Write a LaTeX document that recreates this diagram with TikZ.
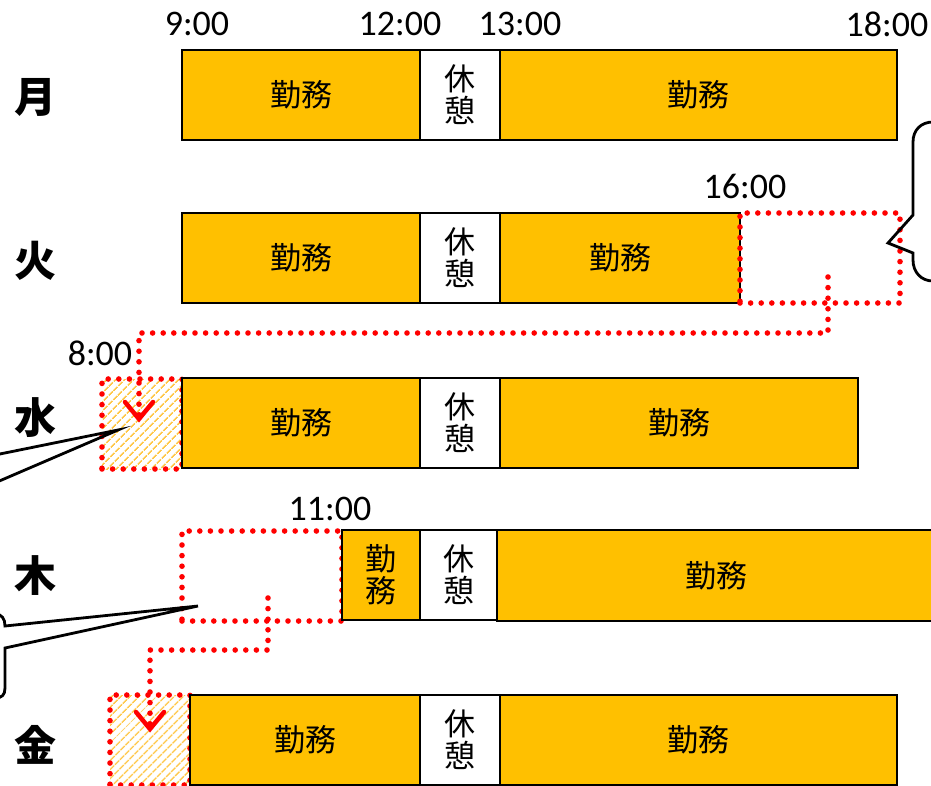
\documentclass[tikz,border=0pt]{standalone}
\usepackage{fontspec}
\setmainfont{Carlito}
\newfontfamily\jp{Noto Sans CJK JP}
\usetikzlibrary{patterns.meta}
\definecolor{workc}{HTML}{FFC000}
\definecolor{hatchc}{HTML}{FFC84A}
\definecolor{dotc}{HTML}{FF0000}
\tikzset{
  bar/.style={draw=black, line width=2.8pt, inner sep=0pt, outer sep=0pt, minimum height=90pt, anchor=north west, font=\jp\fontsize{31}{32}\selectfont, align=center},
  work/.style={bar, fill=workc},
  rest/.style={bar, fill=white},
  dotbox/.style={draw=dotc, line width=5.6pt, dash pattern=on 0pt off 10.6pt, line cap=round, inner sep=0pt, outer sep=0pt, minimum height=90pt, anchor=north west},
  hatchbox/.style={dotbox, pattern={Lines[angle=45,distance=6.5pt,line width=1.6pt]}, pattern color=hatchc},
  dotline/.style={draw=dotc, line width=5.6pt, dash pattern=on 0pt off 10.6pt, line cap=round},
  vhead/.style={draw=dotc, line width=4.5pt, line cap=round, line join=miter},
  callout/.style={draw=black, line width=2.8pt, line join=miter},
  day/.style={font=\jp\bfseries\fontsize{42}{42}\selectfont},
  tlabel/.style={font=\fontsize{36}{36}\selectfont, inner sep=0pt}
}
\begin{document}
\begin{tikzpicture}[x=1pt,y=-1pt]
\useasboundingbox (0,0) rectangle (931,785);
% time labels
\node[tlabel] (t9) at (197,24) {9:00};
\node[tlabel] (t12) at (400,24) {12:00};
\node[tlabel] (t13) at (520,24) {13:00};
\node[tlabel] (t18) at (887,24) {18:00};
\node[tlabel] (t16) at (745,186) {16:00};
\node[tlabel] (t8) at (100,353) {8:00};
\node[tlabel] (t11) at (330,509) {11:00};
% day labels
\node[day] (d1) at (35,97) {月};
\node[day] (d2) at (35,261) {火};
\node[day] (d3) at (35,418) {水};
\node[day] (d4) at (35,576) {木};
\node[day] (d5) at (35,745) {金};
% Monday
\node[work, minimum width=238pt] (m1) at (182,50) {勤務};
\node[rest, minimum width=80pt] (m2) at (420,50) {休\\憩};
\node[work, minimum width=397pt] (m3) at (500,50) {勤務};
% Tuesday
\node[work, minimum width=238pt] (u1) at (182,213) {勤務};
\node[rest, minimum width=80pt] (u2) at (420,213) {休\\憩};
\node[work, minimum width=240pt] (u3) at (500,213) {勤務};
\node[dotbox, minimum width=160pt] (u4) at (740,213) {};
% Wednesday
\node[hatchbox, minimum width=80pt] (w0) at (102,379) {};
\node[work, minimum width=238pt] (w1) at (182,378) {勤務};
\node[rest, minimum width=80pt] (w2) at (420,378) {休\\憩};
\node[work, minimum width=358pt] (w3) at (500,378) {勤務};
% Thursday
\node[dotbox, minimum width=160pt] (h0) at (182,531) {};
\node[work, minimum width=78pt] (h1) at (342,530) {勤\\務};
\node[rest, minimum width=77pt] (h2) at (420,530) {休\\憩};
\node[bar, fill=workc, minimum width=450pt, minimum height=91pt, text width=436pt, align=left] (h3) at (497,530) {\hspace{181pt}勤務};
% Friday
\node[hatchbox, minimum width=80pt] (f0) at (110,695) {};
\node[work, minimum width=230pt] (f1) at (190,695) {勤務};
\node[rest, minimum width=80pt] (f2) at (420,695) {休\\憩};
\node[work, minimum width=397pt] (f3) at (500,695) {勤務};
% connectors
\coordinate (s1) at (828,277);
\coordinate (e1) at (139,419);
\draw[dotline] (s1) -- ++(0,56) -| (e1);
\draw[vhead] ([shift={(-14,-17)}]e1) -- (e1) -- ([shift={(14,-17)}]e1);
\coordinate (s2) at (268,598);
\coordinate (e2) at (150,729);
\draw[dotline] (s2) -- ++(0,52) -| (e2);
\draw[vhead] ([shift={(-14,-17)}]e2) -- (e2) -- ([shift={(14,-17)}]e2);
% callouts
\coordinate (k1) at (118,430);
\draw[callout] (-10,456) -- (k1) -- (-10,485);
\coordinate (k2) at (198,606);
\draw[callout] (-20,614) -- (-5,614) .. controls (2,614) and (5,619) .. (5,626) -- (k2) -- (5,648) -- (5,688) .. controls (5,695) and (2,698) .. (-5,698) -- (-20,698);
\coordinate (k3) at (888,243);
\draw[callout] (950,122) -- (933,122) .. controls (921,122) and (913,130) .. (913,142) -- (913,215) -- (k3) -- (913,253) -- (913,260) .. controls (913,272) and (921,281) .. (933,281) -- (950,281);
\end{tikzpicture}
\end{document}
